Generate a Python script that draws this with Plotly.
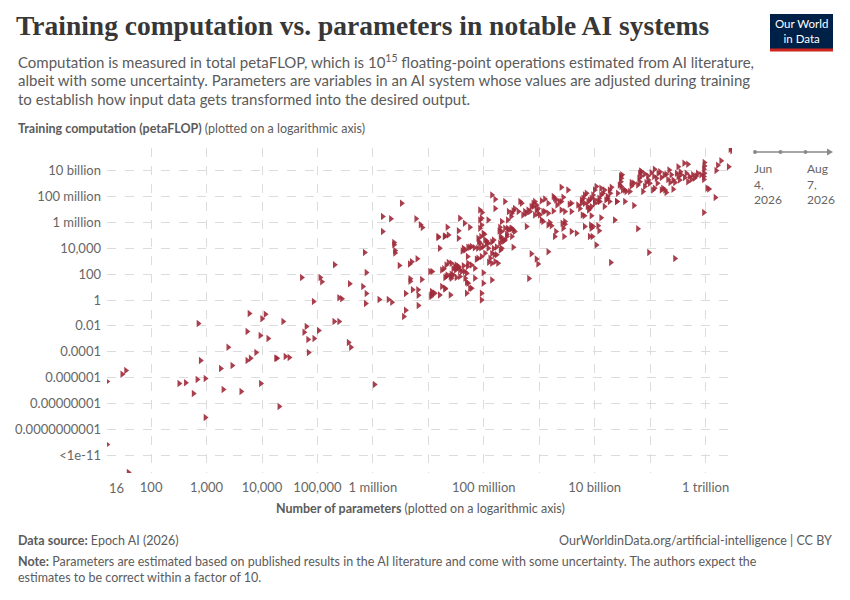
import math
import plotly.graph_objects as go

# ---------------- data ----------------
# Early / small systems
params_a = [16, 30, 35, 16, 39, 320, 420, 580, 680, 950, 780, 710, 950, 1800, 2450,
            2900, 2000, 4200, 5400, 6200, 5400, 5900, 7800, 9300, 10000, 11500, 12900,
            9500, 20400, 17800, 18600, 24000, 26300, 31000, 52000, 57500, 63000, 67600,
            69000, 85000, 87000, 105000, 112000, 120000, 200000, 245000, 204000, 245000,
            275000, 363000, 400000, 380000, 660000, 710000, 760000, 760000, 740000, 1.07e6]
compute_a = [5.1e-7, 1.8e-6, 3.6e-6, 7e-12, 4.8e-14, 3.5e-7, 4.1e-7, 6e-8, 7.2e-7, 8.7e-7,
             2.1e-5, 0.0155, 8.5e-10, 5.2e-6, 2.2e-4, 8.9e-6, 1.2e-7, 8.7e-8, 2.1e-5, 3.1e-5,
             3.7e-3, 0.091, 8.9e-5, 1.8e-3, 0.035, 0.078, 1.07e-3, 3.5e-7, 6e-9, 3.1e-5,
             3.1e-5, 0.022, 4.4e-5, 3.6e-5, 56, 3.2e-3, 9.1e-3, 9.1e-4, 8.9e-5, 0.78,
             1.07e-3, 4.5e-3, 56, 26, 0.022, 0.022, 540, 1.5, 1.26, 5.2e-4,
             2.2e-4, 18, 11, 4800, 135, 3.2, 0.55, 3e-7]

params_b = [1.3e6, 1.5e6, 1.5e6, 2.1e6, 1.9e6, 2.2e6, 2.4e6, 2.4e6, 2.5e6, 2.5e6,
            3e6, 3.3e6, 3.6e6, 3.9e6, 3.9e6, 4.6e6, 4.7e6, 4.7e6, 5e6, 5.2e6,
            6e6, 6.3e6, 6.5e6, 6.6e6, 6.6e6, 7.2e6, 7.8e6, 7.6e6]
compute_b = [1.1, 2.8e6, 2e5, 1.9e6, 1.1, 0.66, 2.8e4, 1.9e4, 6800, 4300,
             470, 3e7, 0.054, 3.2, 0.16, 600, 45, 28, 910, 6.3,
             1.9e6, 1550, 6.3, 2.3, 0.38, 6.6e5, 4.1e5, 39]

# Large systems
params_c = [2.8e12, 3e12, 2.6e12, 1.9e12, 1.66e12, 1.55e12, 9.5e11, 9.5e11, 9.3e11, 9.5e11,
            9.3e11, 9.3e11, 1.07e12, 1.15e12, 1.5e12, 9.3e11, 7.2e11, 6.8e11, 6.3e11, 5.9e11,
            5.5e11, 5.1e11, 4.8e11, 4.5e11, 4.1e11, 4.8e11, 3.2e11, 3.6e11, 3.5e11, 3.2e11,
            3e11, 2.6e11, 2.4e11, 2.3e11, 2.6e11, 2.2e11, 1.95e11, 1.8e11, 1.7e11, 1.6e11,
            1.95e11, 1.4e11, 1.2e11, 1.17e11, 1.3e11, 1.12e11, 1.2e11, 1.05e11, 9.8e10, 9.1e10,
            9.3e10, 8e10, 7.4e10, 6.8e10, 6.5e10, 6.9e10, 6.3e10, 6.5e10, 6e10, 5.1e10,
            4.6e10, 4.3e10, 3.5e10, 3.1e10, 3e10, 2.95e10, 2.8e10, 3e10, 3.2e10, 2.6e10,
            2.5e10, 2e10, 1.9e10, 1.7e10, 1.6e10, 1.5e10, 1.4e10, 1.3e10, 1.2e10, 1.15e10,
            1.07e10, 1e10, 9.3e9, 8.7e9, 8.1e9, 7.6e9, 7.1e9, 6.6e9, 6.2e9, 5.8e9,
            5.4e9, 5e9, 7.4e9, 7.8e9, 1e10, 8.7e9, 1.5e10, 1.7e10, 5.1e10, 3.5e10,
            2.3e10, 1.3e10, 8.7e9, 6.5e9, 1.15e10, 8.5e9, 8.7e9, 1.2e10, 9.1e9, 8.1e9,
            1.07e10, 6e10, 9.5e10, 2.8e11, 1.95e10, 6.5e8]
compute_c = [4.5e11, 3.5e11, 2e10, 5.9e10, 2.6e10, 1e10, 4.2e10, 2.3e10, 1.26e10, 6.2e9,
             3.5e9, 2.1e9, 4.4e8, 3.8e8, 8.3e7, 5.8e6, 6.2e9, 3.9e9, 2.6e9, 4.7e9,
             2.1e9, 3.5e9, 1.4e9, 6.2e9, 3.7e10, 3.1e10, 2e10, 4.7e9, 8.3e9, 3.5e9,
             6.2e9, 1.9e9, 4.7e9, 1.2e9, 3.6e8, 1.1e10, 5.2e9, 4.7e9, 4.4e8, 3.2e8,
             2e8, 6.2e9, 1.26e10, 3.5e9, 2.6e9, 3.2e8, 4.4e8, 7e9, 1.05e9, 3.9e9,
             1.9e9, 5.5e9, 2.4e8, 9.4e9, 6.2e9, 3.9e9, 2.6e9, 1.4e9, 7.8e8, 1.05e9,
             6.6e8, 2.4e8, 3.2e8, 4.7e9, 2.6e9, 1.4e9, 7.8e8, 5.8e8, 3.2e8, 1.8e8,
             4.1e7, 5.1e8, 1.8e8, 9.8e7, 5.4e7, 3.2e8, 1.8e8, 1.3e8, 7.2e7, 4.1e7,
             5.8e8, 3.2e8, 1.3e8, 7.2e7, 5.4e7, 4.1e7, 1.8e8, 1.3e8, 7.2e7, 5.4e7,
             1.2e7, 2.2e7, 1.7e7, 9.1e6, 3e7, 1.7e7, 1.7e7, 7.2e7, 2e7, 4.1e7,
             1.55e6, 2.3e6, 3.2e6, 3.2e6, 5.4e5, 6.3e5, 3.5e5, 2.3e5, 8e4, 8e4,
             1.8e4, 3.2e5, 4700, 1600, 790, 46]

# Mid-size systems
params_d = [3.8e9, 3.3e9, 2.5e9, 2.7e9, 2.3e9, 2e9, 1.9e9, 1.8e9, 2.1e9, 2.5e9,
            2.9e9, 3.8e9, 2.9e9, 2.6e9, 2e9, 1.9e9, 2.8e9, 3.8e9, 4.7e9, 2.7e9,
            1.66e9, 1.45e9, 1.45e9, 9.5e8, 8.9e8, 7.2e8, 1.26e9, 1.1e9, 1.02e9, 9.5e8,
            8.9e8, 8.3e8, 7.8e8, 7.2e8, 6.8e8, 6.3e8, 5.9e8, 5.5e8, 5.1e8, 4.8e8,
            4.5e8, 4.2e8, 3.6e8, 3.4e8, 3.2e8, 3.1e8, 2.8e8, 2.7e8, 2.4e8, 2.1e8,
            1.95e8, 2.1e8, 2.4e8, 2.8e8, 3.2e8, 3.6e8, 3.2e8, 2.6e8, 2.2e8, 1.95e8,
            2.4e8, 2e8, 3.4e8, 1.7e8, 1.5e8, 1.4e8, 1.7e8, 1.6e8, 1.4e8, 1.8e8,
            1.3e8, 1.2e8, 1.12e8, 1.05e8, 9.8e7, 8.9e7, 7.9e7, 8.5e7, 9.8e7, 1.05e8,
            9.1e7, 7.9e7, 6e7, 5.6e7, 5.2e7, 4.3e7, 4.6e7, 3.5e7, 2.3e7, 2e7,
            1.5e7, 1.6e7, 1.07e7, 1.15e7, 1.12e7, 1.3e7, 1.6e7, 1.75e7, 2e7, 2.5e7,
            4.9e7, 5.6e7, 5.2e7, 6.9e7, 4.6e7, 4.9e7, 4e7, 3.7e7, 3.5e7, 3.2e7,
            3e7, 3.2e7, 2.6e7, 2.3e7, 2.1e7, 2.5e7, 2.8e7, 1.75e7, 6.9e7, 6e7,
            5.1e7, 5.2e7, 4.3e7, 9.1e7, 9.1e7, 9.8e7, 9.8e7, 1.4e8, 7.4e7, 3.7e7,
            4.5e7, 5.6e7, 9.3e7, 9.1e7, 8.5e7, 1.2e8, 9.1e7, 1.4e8, 1.6e8, 1.6e8,
            8.5e7, 8.5e7, 2.2e7, 3.5e7]
compute_d = [3e7, 3.2e8, 5.1e8, 8.7e7, 4.1e7, 5.4e7, 7.2e7, 9.8e7, 2.2e7, 9.1e6,
             6.8e6, 6.8e6, 1.15e6, 8.5e5, 1.95e5, 8e4, 8e4, 1.95e5, 1.45e5, 3.5e5,
             5.4e5, 6.3e5, 5500, 620, 1500, 3700, 6.8e6, 1.55e6, 3.8e6, 1.2e7,
             2.2e7, 4.1e7, 3e7, 1.7e7, 6.8e6, 9.1e6, 5e6, 6.8e6, 3.8e6, 3e7,
             4.1e7, 6.8e6, 1.2e7, 8.1e6, 5e6, 2.8e6, 6.8e6, 1.55e6, 4.1e7, 1.15e6,
             4.2e5, 1.95e5, 3.5e5, 2.6e5, 3.5e5, 1.95e5, 8e4, 8e4, 4.4e4, 2.4e4,
             4.4e4, 8e4, 1.2e4, 1.26e4, 9500, 4000, 3100, 930, 690, 690,
             1700, 1e4, 2.4e4, 4.4e4, 1.45e5, 8e4, 6e4, 2.4e4, 1.35e4, 4200,
             2300, 1700, 1.35e4, 1.2e4, 1.2e4, 1e4, 7400, 6e4, 1.07e5, 8.9e4,
             8e4, 1e4, 160, 4.6, 2.5, 3.4, 2.5, 11, 8.1, 2.5,
             3.4, 8.1, 20, 49, 49, 117, 160, 210, 390, 290,
             390, 520, 690, 790, 66, 66, 87, 210, 290, 520,
             390, 690, 440, 3.4, 1.0, 20, 130, 36, 1400, 2.1e6,
             8.5e5, 4.2e5, 5.8e6, 2.1e6, 1.55e6, 1.55e6, 6.3e5, 1.3e8, 6.2e7, 1.2e7,
             9.1e6, 3.5e5, 4.2e5, 2.3e5]

params_e = [1.5e7, 1.95e7, 1.02e8, 8.1e7, 1.12e8, 1.2e8, 1.4e8, 1.5e8, 1.9e8, 2.7e8,
            3.1e8, 3.4e8, 2.6e8, 2.1e8, 2.3e8, 2.1e8, 2e8, 5.9e8, 8.9e7, 7.8e7,
            6.8e7, 4.1e7, 5.1e7, 1.55e8, 1.23e8, 6e7, 4.9e7, 4.5e7, 3.5e7, 3.1e7,
            2.8e7, 2.6e7, 2.6e7, 3.2e7, 3.7e7, 2.1e7, 2.2e7, 2e7, 1.9e7, 1.17e7,
            2e7, 1.17e7, 1.12e7]
compute_e = [6.8e4, 8e4, 1.2e5, 3.3e4, 3.7e4, 2.4e4, 3e4, 4.4e4, 2.2e5, 3.5e5,
             3.2e5, 2.6e5, 1.2e5, 5.2e4, 3.7e4, 1e4, 7400, 4.8e5, 1.1e4, 1e4,
             1.1e4, 6200, 2300, 3100, 830, 8.1, 24, 160, 320, 210,
             260, 98, 49, 55, 66, 520, 87, 55, 260, 160,
             7.2, 3.4, 1.9]

params_f = [3.7e10, 1.85e10, 1.3e10, 1.23e10, 1e10, 5.8e9, 1.85e10, 2.5e10, 6.6e9, 8.1e9,
            6e9, 1.1e9, 1.26e9, 1.45e9, 2.5e9, 3.5e9, 7.8e8, 8.9e8, 8.3e8, 9.5e8,
            1.17e9, 1.45e9, 1.8e9, 1.17e9, 1.55e9, 2.9e9, 6.6e9, 9.3e9,
            1.5e11, 1.6e11, 2.1e11, 2.8e11, 3.4e11, 4.2e11, 8.3e11, 6.9e10, 2.95e10, 4.6e10,
            8.5e10, 1.35e11, 1.85e11, 8e10]
compute_f = [2.4e8, 3.2e8, 4.4e8, 4.1e7, 5.4e7, 3e7, 4.1e7, 4.1e7, 3e7, 1.2e7,
             3.8e6, 4.6e7, 6.5e7, 3e7, 4.1e7, 2.5e7, 1.7e7, 9.1e6, 3.8e6, 5e6,
             6.8e6, 5e6, 7.6e6, 1.15e6, 1e6, 7.2e5, 4.8e5, 4.8e5,
             8.3e9, 3e9, 2.1e9, 1.2e9, 1.9e9, 3e9, 4.7e9, 8.3e9, 3.9e9, 1.2e9,
             1.2e9, 1.05e9, 3.2e8, 5.8e8]

y_tick_vals = [1e10, 1e8, 1e6, 1e4, 1e2, 1, 1e-2, 1e-4, 1e-6, 1e-8, 1e-10, 1e-12]
y_tick_text = ["10 billion", "100 million", "1 million", "10,000", "100", "1", "0.01",
               "0.0001", "0.000001", "0.00000001", "0.0000000001", "<1e-11"]
x_tick_vals = [1e2, 1e3, 1e4, 1e5, 1e6, 1e8, 1e10, 1e12]
x_tick_text = ["100", "1,000", "10,000", "100,000", "1 million", "100 million",
               "10 billion", "1 trillion"]
x_grid_only_vals = [1e7, 1e9, 1e11]
x_min_value = 16
x_max_value = 3.0e12
y_min_value = 4.3e-14
y_max_value = 5.6e11

timeline_start = ["Jun", "4,", "2026"]
timeline_end = ["Aug", "7,", "2026"]

# ---------------- figure ----------------
params = params_a + params_b + params_c + params_d + params_e + params_f
compute = compute_a + compute_b + compute_c + compute_d + compute_e + compute_f

W, H = 850, 600
L, R, T, B = 107, 732, 148, 473


def px(x):
    return (x - L) / (R - L)


def py(y):
    return (B - y) / (B - T)


RED = "#a02a3a"
GREY = "#666666"
DARK = "#5b5b5b"
FONT = "Lato"

fig = go.Figure()
fig.add_trace(go.Scatter(
    x=params, y=compute, mode="markers",
    marker=dict(symbol="triangle-right", size=6.5, color=RED, opacity=0.9,
                line=dict(width=0)),
    hoverinfo="skip", showlegend=False,
))

grid = dict(showgrid=True, gridcolor="#dcdcdc", griddash="dash", gridwidth=1,
            zeroline=False, showline=False, ticks="")

fig.update_xaxes(type="log",
                 range=[math.log10(x_min_value), math.log10(x_max_value)],
                 tickmode="array", tickvals=x_tick_vals, ticktext=x_tick_text,
                 ticklabelstandoff=5,
                 minor=dict(tickmode="array", tickvals=x_grid_only_vals, showgrid=True,
                            gridcolor="#dcdcdc", griddash="dash", gridwidth=1, ticks=""),
                 tickfont=dict(family=FONT, size=13, color=GREY), **grid)
fig.update_yaxes(type="log",
                 range=[math.log10(y_min_value), math.log10(y_max_value)],
                 tickmode="array", tickvals=y_tick_vals, ticktext=y_tick_text,
                 ticklabelstandoff=5,
                 tickfont=dict(family=FONT, size=13, color=GREY), **grid)

ann = []


def text(x, y, s, size, color=DARK, family=FONT, xanchor="left"):
    ann.append(dict(x=px(x), y=py(y), xref="paper", yref="paper", text=s,
                    showarrow=False, xanchor=xanchor, yanchor="middle",
                    font=dict(family=family, size=size, color=color)))


text(14, 26, "<b>Training computation vs. parameters in notable AI systems</b>", 27.5,
     color="#373737", family="Liberation Serif")
text(16, 61, "Computation is measured in total petaFLOP, which is 10<sup>15</sup> floating-point "
     "operations estimated from AI literature,", 15)
text(16, 80, "albeit with some uncertainty. Parameters are variables in an AI system whose values "
     "are adjusted during training", 15)
text(16, 99, "to establish how input data gets transformed into the desired output.", 15)
text(16, 129, "<b>Training computation (petaFLOP)</b> (plotted on a logarithmic axis)", 12.5)
text(420, 508, "<b>Number of parameters</b> (plotted on a logarithmic axis)", 12.5,
     xanchor="center")
text(16, 540, "<b>Data source:</b> Epoch AI (2026)", 12.5)
text(834, 540, "OurWorldinData.org/artificial-intelligence | CC BY", 12.5, xanchor="right")
text(16, 561, "<b>Note:</b> Parameters are estimated based on published results in the AI "
     "literature and come with some uncertainty. The authors expect the", 12.5)
text(16, 577, "estimates to be correct within a factor of 10.", 12.5)

# first x label at the axis minimum
ann.append(dict(x=math.log10(x_min_value), y=py(488), xref="x", yref="paper",
                text="16", showarrow=False, xanchor="left", yanchor="middle",
                font=dict(family=FONT, size=13, color=GREY)))

# timeline labels (one annotation per date)
for lx, lines in zip([752, 805], [timeline_start, timeline_end]):
    ann.append(dict(x=px(lx), y=py(159), xref="paper", yref="paper",
                    text="<br>".join(lines), showarrow=False, xanchor="left",
                    yanchor="top", align="left",
                    font=dict(family=FONT, size=12, color=GREY)))

# logo text
ann.append(dict(x=px(801.5), y=py(31), xref="paper", yref="paper",
                text="Our World<br>in Data", showarrow=False, xanchor="center",
                yanchor="middle", font=dict(family="Lato", size=11.5, color="white")))

shapes = []
# logo
shapes.append(dict(type="rect", xref="paper", yref="paper", x0=px(770), x1=px(833),
                   y0=py(14), y1=py(51), fillcolor="#002147", line=dict(width=0)))
shapes.append(dict(type="rect", xref="paper", yref="paper", x0=px(770), x1=px(833),
                   y0=py(48.5), y1=py(51.5), fillcolor="#ce261e", line=dict(width=0)))
# timeline
shapes.append(dict(type="line", xref="paper", yref="paper", x0=px(755), x1=px(829),
                   y0=py(152), y1=py(152), line=dict(color="#8a8a8a", width=1.5)))
for dx in [755, 780.5, 805.5]:
    shapes.append(dict(type="circle", xref="paper", yref="paper",
                       x0=px(dx - 2), x1=px(dx + 2), y0=py(150), y1=py(154),
                       fillcolor="#8a8a8a", line=dict(width=0)))
shapes.append(dict(type="path", xref="paper", yref="paper",
                   path=f"M {px(827)},{py(148.5)} L {px(833)},{py(152)} L {px(827)},{py(155.5)} Z",
                   fillcolor="#8a8a8a", line=dict(width=0)))

fig.update_layout(
    width=W, height=H, autosize=False,
    margin=dict(l=L, r=W - R, t=T, b=H - B, pad=0),
    plot_bgcolor="white", paper_bgcolor="white",
    annotations=ann, shapes=shapes, showlegend=False,
    font=dict(family=FONT),
)

fig.write_html("out.html", config={"displayModeBar": False},
               post_script="document.body.style.margin='0px';document.body.style.overflow='hidden';")
